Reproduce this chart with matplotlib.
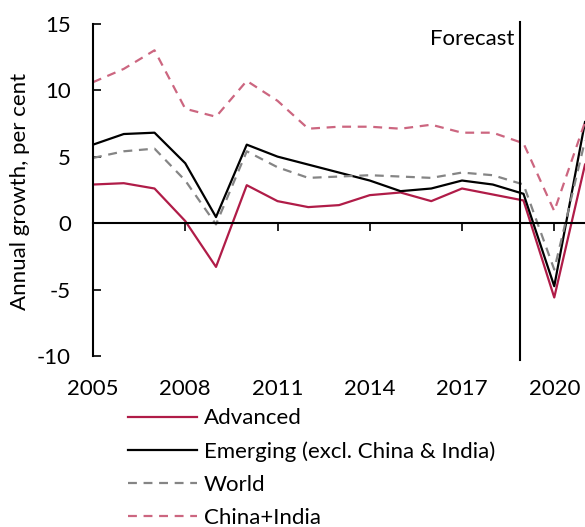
import matplotlib
matplotlib.use("Agg")
import matplotlib.pyplot as plt

plt.rcParams['font.family'] = ['Lato', 'DejaVu Sans']
plt.rcParams['axes.unicode_minus'] = False

# Annual growth, per cent
years = list(range(2005, 2022))
advanced = [2.9, 3.0, 2.6, 0.15, -3.3, 2.85, 1.65, 1.2, 1.35, 2.1, 2.3, 1.65, 2.6, 2.15, 1.7, -5.6, 4.4]
emerging = [5.9, 6.7, 6.8, 4.5, 0.45, 5.9, 5.0, 4.4, 3.8, 3.2, 2.4, 2.6, 3.2, 2.9, 2.2, -4.75, 7.6]
world = [4.9, 5.4, 5.6, 3.2, -0.1, 5.4, 4.2, 3.4, 3.5, 3.6, 3.5, 3.4, 3.8, 3.6, 2.9, -3.5, 6.2]
china_india = [10.6, 11.6, 13.0, 8.6, 8.0, 10.7, 9.2, 7.1, 7.25, 7.25, 7.1, 7.4, 6.8, 6.8, 6.0, 0.9, 7.6]

forecast_year = 2018.9
xticks = [2005, 2008, 2011, 2014, 2017, 2020]
yticks = [-10, -5, 0, 5, 10, 15]

fs = 16
fig = plt.figure(figsize=(5.85, 5.27), dpi=100)
ax = fig.add_axes([0.159, 0.317, 0.841, 0.638])

ax.plot(years, advanced, color='#b01c48', lw=1.6, label='Advanced')
ax.plot(years, emerging, color='black', lw=1.6, label='Emerging (excl. China & India)')
ax.plot(years, world, color='#858585', lw=1.6, dashes=(4, 3), label='World')
ax.plot(years, china_india, color='#cc6680', lw=1.6, dashes=(4, 3), label='China+India')

ax.plot([forecast_year, forecast_year], [-10.3, 15.15], color='black', lw=1.5, clip_on=False)
ax.text(forecast_year - 0.2, 14.6, 'Forecast', ha='right', va='top', fontsize=fs)

ax.set_xlim(2005, 2021)
ax.set_ylim(-10.3, 15)

for s in ['top', 'right']:
    ax.spines[s].set_visible(False)
ax.spines['left'].set_bounds(-10, 15)
ax.spines['left'].set_linewidth(1.5)
ax.spines['bottom'].set_position(('data', 0))
ax.spines['bottom'].set_linewidth(1.5)

ax.set_yticks(yticks)
ax.tick_params(axis='y', direction='in', length=6, width=1.2, pad=16, labelsize=fs)
ax.set_xticks(xticks)
ax.tick_params(axis='x', direction='out', length=6, width=1.2, labelbottom=False)

# year labels sit below the plot, not on the zero line
sec = ax.secondary_xaxis('bottom')
sec.set_xticks(xticks)
sec.spines['bottom'].set_visible(False)
sec.tick_params(length=0, pad=14, labelsize=fs)

ax.set_ylabel('Annual growth, per cent', fontsize=fs, labelpad=5)

fig.legend(loc='upper left', bbox_to_anchor=(0.219, 0.225), frameon=False,
           fontsize=fs, handlelength=3.1, handletextpad=0.3, labelspacing=0.58,
           borderpad=0, borderaxespad=0)

fig.savefig('out.png', dpi=100)
